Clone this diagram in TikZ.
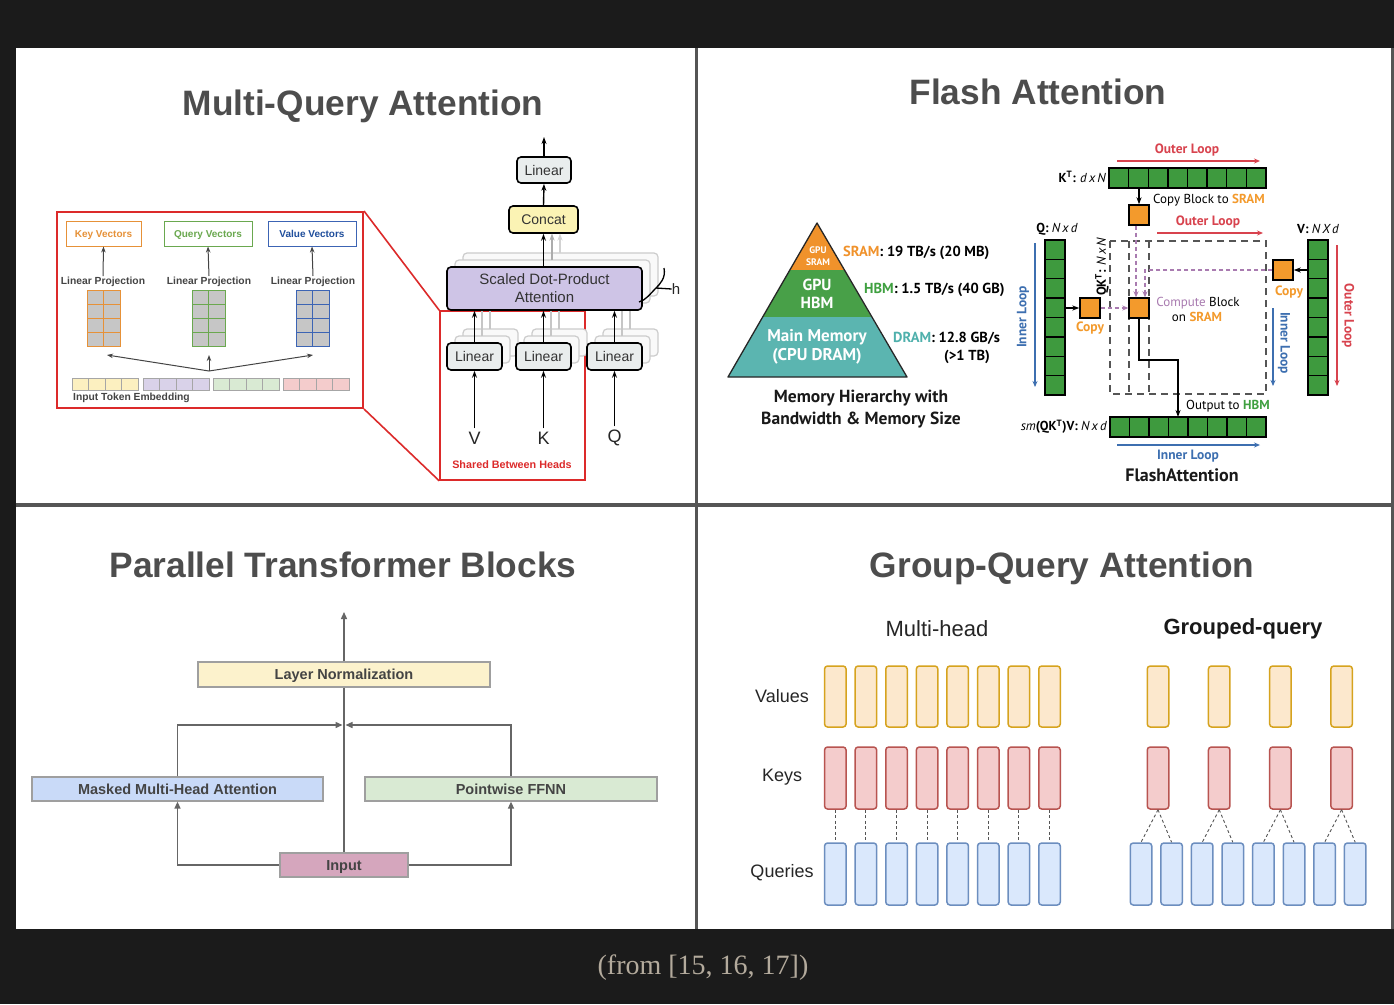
\documentclass[tikz,border=0pt]{standalone}
\usepackage{fontspec}
\setmainfont{Liberation Sans}
\newfontfamily\ptsans{PT Sans}
\newfontfamily\serifcap{Liberation Serif}
\usetikzlibrary{arrows.meta,calc}

\definecolor{bgdark}{HTML}{1B1B1B}
\definecolor{divgray}{HTML}{555555}
\definecolor{titlegray}{HTML}{4D4D4D}
\definecolor{mqred}{HTML}{DC2A2A}
\definecolor{keyor}{HTML}{E69138}
\definecolor{qgreen}{HTML}{6AA84F}
\definecolor{vblue}{HTML}{3C64B4}
\definecolor{vtext}{HTML}{1F4E9C}
\definecolor{matfill}{HTML}{C6C6C6}
\definecolor{embY}{HTML}{FCF0C0}
\definecolor{embP}{HTML}{D9D2E9}
\definecolor{embG}{HTML}{D9EAD3}
\definecolor{embR}{HTML}{F4CCCC}
\definecolor{lingray}{HTML}{E9EDED}
\definecolor{concatY}{HTML}{FBF3B4}
\definecolor{sdpa}{HTML}{CEC4E6}
\definecolor{faorange}{HTML}{F0922B}
\definecolor{fagreen}{HTML}{48A048}
\definecolor{fateal}{HTML}{5BB5B0}
\definecolor{cellgreen}{HTML}{3E9A3E}
\definecolor{blkorange}{HTML}{F39A2C}
\definecolor{lblgreen}{HTML}{3FA040}
\definecolor{lblteal}{HTML}{4FB0AC}
\definecolor{loopred}{HTML}{D8434E}
\definecolor{loopblue}{HTML}{3D6FB0}
\definecolor{cmpurple}{HTML}{A97BB0}
\definecolor{ptgray}{HTML}{444444}
\definecolor{lnY}{HTML}{FCF2CC}
\definecolor{mmhB}{HTML}{C9DAF8}
\definecolor{ffG}{HTML}{D9EAD3}
\definecolor{inP}{HTML}{D5A6BD}
\definecolor{valF}{HTML}{FCE8CD}
\definecolor{valD}{HTML}{D6A31E}
\definecolor{keyF}{HTML}{F4CCCC}
\definecolor{keyD}{HTML}{B85450}
\definecolor{qryF}{HTML}{DAE8FC}
\definecolor{qryD}{HTML}{6C8EBF}
\definecolor{capcol}{HTML}{B3AA9C}

\tikzset{
  ttl/.style={font=\bfseries\fontsize{35.3}{40}\selectfont, text=titlegray, inner sep=0, anchor=base},
  vecbox/.style={draw=#1, line width=1pt, fill=white, minimum height=25pt, inner sep=0,
     font=\bfseries\fontsize{10}{12}\selectfont, text depth=0pt, text height=7.2pt},
  lproj/.style={font=\bfseries\fontsize{10.3}{12}\selectfont, text=ptgray, inner sep=1pt},
  mqarrow/.style={-{Stealth[length=6pt,width=4.5pt]}, draw=ptgray, line width=1pt},
  tfbox/.style={draw=black, line width=1.6pt, rounded corners=4pt, inner sep=0,
     font=\fontsize{14}{16}\selectfont, text=black!80},
  shbox/.style={draw=gray!40, line width=1.2pt, rounded corners=4pt, fill=gray!5},
  blkarrow/.style={-{Stealth[length=7pt,width=5pt]}, line width=1.4pt},
  shline/.style={line width=1.2pt, draw=gray!45},
  embcell/.style={draw=gray!70, line width=0.7pt},
  fatext/.style={font=\ptsans\bfseries\fontsize{14.5}{17}\selectfont, inner sep=0},
  fasmall/.style={font=\ptsans\fontsize{13}{15.5}\selectfont, inner sep=0},
  fabold/.style={font=\ptsans\bfseries\fontsize{13.5}{15}\selectfont, inner sep=0},
  cellsty/.style={fill=cellgreen, draw=black, line width=1.4pt},
  oblock/.style={fill=blkorange, draw=black, line width=1.4pt, minimum width=20pt, minimum height=20pt, inner sep=0},
  looparrow/.style={-{Stealth[length=6pt,width=5pt]}, line width=1.3pt},
  pdash/.style={draw=cmpurple, line width=1.4pt, dash pattern=on 4pt off 3pt},
  gdash/.style={draw=divgray, line width=1.3pt, dash pattern=on 7pt off 5pt},
  ptbox/.style={draw=gray!75, line width=1.2pt, inner sep=0, minimum height=24pt,
     font=\bfseries\fontsize{14.5}{16}\selectfont, text=ptgray, text depth=0pt, text height=10.4pt},
  ptline/.style={draw=divgray!90, line width=1.4pt},
  ptarrow/.style={ptline, -{Triangle[length=7pt,width=6pt]}},
  gqrect/.style={draw=#1, line width=1.5pt, rounded corners=3pt, minimum width=21.5pt, inner sep=0},
  gqdash/.style={draw=divgray, line width=0.9pt, dash pattern=on 3pt off 2.5pt},
  gqlabel/.style={font=\fontsize{18}{20}\selectfont, text=black!85, inner sep=0},
}

\begin{document}
\begin{tikzpicture}[x=1pt,y=-1pt]
\useasboundingbox (0,0) rectangle (1394,1004);
\fill[bgdark] (0,0) rectangle (1394,1004);
\fill[divgray] (16,48) rectangle (1394,929);
\fill[white] (16,48) rectangle (695,503);
\fill[white] (698,48) rectangle (1391,503);
\fill[white] (16,507) rectangle (695,929);
\fill[white] (698,507) rectangle (1391,929);

%================ Multi-Query Attention ================
\node[ttl] (mqattl) at (363,115.5) {Multi-Query Attention};

\node[draw=mqred, line width=2pt, minimum width=306pt, minimum height=196pt, inner sep=0] (inset) at (210,310) {};

\node[vecbox=keyor, minimum width=75pt, text=keyor] (kvec) at (103.5,233.5) {Key Vectors};
\node[vecbox=qgreen, minimum width=88pt, text=qgreen] (qvec) at (208,233.5) {Query Vectors};
\node[vecbox=vblue, minimum width=88pt, text=vtext] (vvec) at (312,233.5) {Value Vectors};

\node[lproj] (lpk) at (103,282) {Linear Projection};
\node[lproj] (lpq) at (209,282) {Linear Projection};
\node[lproj] (lpv) at (313,282) {Linear Projection};
\draw[mqarrow] (lpk.north) -- (kvec.south);
\draw[mqarrow] (lpq.north) -- (qvec.south);
\draw[mqarrow] (lpv.north) -- (vvec.south);

\foreach \mx/\col in {87/keyor,192/qgreen,296/vblue}{
  \fill[matfill] (\mx,290) rectangle ++(33,56);
  \draw[\col, line width=1pt] (\mx,290) rectangle ++(33,56);
  \draw[\col, line width=1pt] (\mx+16.5,290) -- ++(0,56);
  \foreach \r in {1,2,3} \draw[\col, line width=1pt] (\mx,290+14*\r) -- ++(33,0);
}

\coordinate (embsrc) at (209,371);
\coordinate (tk) at (107,355);
\coordinate (tq) at (209,355);
\coordinate (tv) at (313,355);
\draw[mqarrow] (embsrc) -- (tk);
\draw[mqarrow] (embsrc) -- (tq);
\draw[mqarrow] (embsrc) -- (tv);

\foreach \gx/\gc in {72/embY,143/embP,213/embG,283/embR}{
  \foreach \c in {0,1,2,3}
    \draw[embcell, fill=\gc] (\gx+16.5*\c,378) rectangle ++(16.5,12);
}
\node[lproj, anchor=west, inner sep=0] (embl) at (73,398) {Input Token Embedding};

% shared box and connectors
\node[draw=mqred, line width=1.6pt, minimum width=145pt, minimum height=169pt, inner sep=0] (shared) at (512.5,395.5) {};
\draw[mqred, line width=1.6pt] (inset.north east) -- (shared.north west);
\draw[mqred, line width=1.6pt] (inset.south east) -- (shared.south west);
\node[font=\bfseries\fontsize{10.8}{12}\selectfont, text=mqred] (shl) at (512,465) {Shared Between Heads};

% shadows of linear boxes
\foreach \lx in {474.5,543.5,614.5}{
  \foreach \o in {2,1}{
    \node[shbox, minimum width=55pt, minimum height=27pt] at ({\lx+8*\o},{356.5-7*\o}) {};
    \draw[shline] ({\lx+8*\o-0.5},{343-7*\o}) -- ({\lx+8*\o-0.5},{310-7*\o});
  }
}
% shadows of attention box
\foreach \o in {2,1}{
  \node[shbox, minimum width=195pt, minimum height=43pt] at ({544.5+8*\o},{288.5-7*\o}) {};
}
\node[tfbox, fill=sdpa, minimum width=195pt, minimum height=43pt, align=center,
      font=\fontsize{15}{18}\selectfont] (sdp) at (544.5,288.5) {Scaled Dot-Product\\Attention};

\node[tfbox, fill=lingray, minimum width=55pt, minimum height=27pt] (lin1) at (474.5,356.5) {Linear};
\node[tfbox, fill=lingray, minimum width=55pt, minimum height=27pt] (lin2) at (543.5,356.5) {Linear};
\node[tfbox, fill=lingray, minimum width=55pt, minimum height=27pt] (lin3) at (614.5,356.5) {Linear};
\node[tfbox, fill=concatY, minimum width=69pt, minimum height=27pt] (concat) at (543.5,219.5) {Concat};
\node[tfbox, fill=lingray, minimum width=54pt, minimum height=26pt] (lintop) at (544,170) {Linear};
\coordinate (outtop) at (544,137);

\draw[blkarrow] (lintop.north) -- (outtop);
\draw[blkarrow] (concat.north) -- (lintop.south);
\draw[blkarrow, draw=gray!35] (560,253) -- (560,233.5);
\draw[blkarrow, draw=gray!65] (552,260) -- (552,233.5);
\draw[blkarrow] (543.5,266.5) -- (concat.south);
\draw[blkarrow] (lin1.north) -- (lin1.north |- sdp.south);
\draw[blkarrow] (lin2.north) -- (lin2.north |- sdp.south);
\draw[blkarrow] (lin3.north) -- (lin3.north |- sdp.south);

\node[font=\fontsize{18}{20}\selectfont, text=black!85] (vin) at (474.5,438) {V};
\node[font=\fontsize{18}{20}\selectfont, text=black!85] (kin) at (543.5,438) {K};
\node[font=\fontsize{18}{20}\selectfont, text=black!85] (qin) at (614.5,438) {Q};
\draw[blkarrow] (vin.north) -- (lin1.south);
\draw[blkarrow] (kin.north) -- (lin2.south);
\draw[blkarrow] (qin.north) -- (lin3.south);

% h brace
\draw[line width=1.3pt] (664,268) .. controls (666,278) and (660,284) .. (656,288)
                          .. controls (650,294) and (646,300) .. (639,302);
\node[font=\fontsize{15}{17}\selectfont, text=black!85, inner sep=0] (hlab) at (676,289) {h};
\draw[line width=1.3pt] (656,288) -- (hlab.west);

%================ Flash Attention ================
\node[ttl] (fattl) at (1038,104.5) {Flash Attention};

\coordinate (apex) at (817,223);
\coordinate (sl) at (789.8,270);
\coordinate (sr) at (844.2,270);
\coordinate (hl) at (762.7,317);
\coordinate (hr) at (871.3,317);
\coordinate (bl) at (728,377);
\coordinate (br) at (907,377);
\fill[faorange] (apex) -- (sl) -- (sr) -- cycle;
\fill[fagreen] (sl) -- (hl) -- (hr) -- (sr) -- cycle;
\fill[fateal] (hl) -- (bl) -- (br) -- (hr) -- cycle;
\draw[black!85, line width=1.3pt, line join=round] (apex) -- (bl) -- (br) -- cycle;

\node[font=\ptsans\bfseries\fontsize{9.5}{12.5}\selectfont, text=white, align=center, inner sep=0] (sramt) at (818,256) {GPU\\SRAM};
\node[font=\ptsans\bfseries\fontsize{16}{17.5}\selectfont, text=white, align=center, inner sep=0] (hbmt) at (817,294) {GPU\\HBM};
\node[font=\ptsans\bfseries\fontsize{17}{19.5}\selectfont, text=white, align=center, inner sep=0] (dramt) at (817,347) {Main Memory\\(CPU DRAM)};

\node[fatext, anchor=west] (sraml) at (843,253) {\textcolor{faorange}{SRAM}: 19 TB/s (20 MB)};
\node[fatext, anchor=west] (hbml) at (864,290) {\textcolor{lblgreen}{HBM}: 1.5 TB/s (40 GB)};
\node[fatext, anchor=west] (draml) at (893,338) {\textcolor{lblteal}{DRAM}: 12.8 GB/s};
\node[fatext] (draml2) at (967,357) {(>1 TB)};
\node[font=\ptsans\bfseries\fontsize{17.5}{21.5}\selectfont, align=center, inner sep=0, text=black!90] (memcap) at (861,409) {Memory Hierarchy with\\Bandwidth \& Memory Size};

% bars
\node[minimum width=157pt, minimum height=20pt, inner sep=0, anchor=north west] (ktbar) at (1109,168) {};
\foreach \i in {0,...,7} \draw[cellsty] (1109+19.625*\i,168) rectangle ++(19.625,20);
\node[minimum width=156pt, minimum height=20pt, inner sep=0, anchor=north west] (smbar) at (1110,417) {};
\foreach \i in {0,...,7} \draw[cellsty] (1110+19.5*\i,417) rectangle ++(19.5,20);
\node[minimum width=20pt, minimum height=155pt, inner sep=0, anchor=north west] (qcol) at (1045,240) {};
\foreach \i in {0,...,7} \draw[cellsty] (1045,240+19.375*\i) rectangle ++(20,19.375);
\node[minimum width=20pt, minimum height=155pt, inner sep=0, anchor=north west] (vcol) at (1308,240) {};
\foreach \i in {0,...,7} \draw[cellsty] (1308,240+19.375*\i) rectangle ++(20,19.375);

% dashed QK^T region
\draw[gdash] (1110,241) rectangle (1266,394);
\draw[gdash] (1129,241) -- (1129,394);
\draw[gdash] (1149,241) -- (1149,394);

% orange blocks
\node[oblock] (kblk) at (1139,215) {};
\node[oblock] (qblk) at (1090,308) {};
\node[oblock] (cblk) at (1139,308) {};
\node[oblock] (vblk) at (1283,270) {};

\draw[blkarrow, line width=1.3pt] (kblk.north |- ktbar.south) -- (kblk.north);
\draw[blkarrow, line width=1.3pt] (qcol.east |- qblk.west) -- (qblk.west);
\draw[blkarrow, line width=1.3pt] (vcol.west |- vblk.east) -- (vblk.east);

\draw[pdash, -{Stealth[length=6pt,width=5pt]}] ($(kblk.south)+(-3,0)$) -- ($(cblk.north)+(-3,0)$);
\draw[pdash, -{Stealth[length=6pt,width=5pt]}] (vblk.west) -- (1145,270) -- ($(cblk.north)+(6,0)$);
\draw[pdash, -{Stealth[length=6pt,width=5pt]}] (qblk.east) -- (cblk.west);

\draw[blkarrow, line width=1.3pt] (cblk.south) -- (1139,360) -- (1178,360) -- (1178,417);

% labels
\node[fabold, text=loopred] (ol1) at (1187,150) {Outer Loop};
\draw[looparrow, loopred] (1117,161) -- (1260,161);
\node[fasmall, anchor=west] (cpbl) at (1153,200) {Copy Block to \textcolor{blkorange}{\bfseries SRAM}};
\node[fabold, text=loopred] (ol2) at (1208,222) {Outer Loop};
\draw[looparrow, loopred] (1157,233) -- (1263,233);
\node[fasmall, anchor=east] (ktl) at (1106,177) {\bfseries K\textsuperscript{T}: \mdseries\itshape d\,x\,N};
\node[fasmall] (ql) at (1057,229) {\bfseries Q: \mdseries\itshape N\,x\,d};
\node[fasmall] (vl) at (1318,229) {\bfseries V: \mdseries\itshape N\,X\,d};
\node[fasmall, rotate=90] (qktl) at (1102,267) {\bfseries QK\textsuperscript{T}: \mdseries\itshape N\,x\,N};
\node[fabold, text=blkorange] (cpq) at (1090,328) {Copy};
\node[fabold, text=blkorange] (cpv) at (1289,292) {Copy};
\node[fasmall, align=left] (cmpl) at (1198,309.5) {\textcolor{cmpurple}{Compute} Block\\\hspace*{1.2em}on \textcolor{blkorange}{\bfseries SRAM}};
\node[fabold, text=loopblue, rotate=90] (il1) at (1023,317) {Inner Loop};
\draw[looparrow, loopblue] (1035,243) -- (1035,387);
\node[fabold, text=loopblue, rotate=-90] (il2) at (1284,343) {Inner Loop};
\draw[looparrow, loopblue] (1273,308) -- (1273,386);
\node[fabold, text=loopred, rotate=-90] (ol3) at (1348,316) {Outer Loop};
\draw[looparrow, loopred] (1337,245) -- (1337,386);
\node[fasmall, anchor=west] (outl) at (1186,406) {Output to \textcolor{lblgreen}{\bfseries HBM}};
\node[fasmall, anchor=east] (sml) at (1107,427) {\itshape sm\upshape\bfseries(QK\textsuperscript{T})V: \mdseries\itshape N\,x\,d};
\node[fabold, text=loopblue] (il3) at (1188,456) {Inner Loop};
\draw[looparrow, loopblue] (1117,445) -- (1260,445);
\node[font=\ptsans\bfseries\fontsize{18}{20}\selectfont, inner sep=0, text=black!90] (fal) at (1182,475) {FlashAttention};

%================ Parallel Transformer Blocks ================
\node[ttl] (ptttl) at (343,577.5) {Parallel Transformer Blocks};
\node[ptbox, fill=lnY, minimum width=292pt, minimum height=25pt] (ln) at (344,674.5) {Layer Normalization};
\node[ptbox, fill=mmhB, minimum width=291pt] (mmh) at (177.5,789) {Masked Multi-Head Attention};
\node[ptbox, fill=ffG, minimum width=292pt] (ffn) at (511,789) {Pointwise FFNN};
\node[ptbox, fill=inP, minimum width=128pt] (inp) at (344,865) {Input};
\coordinate (pttop) at (344,612);
\coordinate (jl) at (342.5,725);
\coordinate (jr) at (345.5,725);
\draw[ptarrow] (ln.north) -- (pttop);
\draw[ptline] (ln.south) -- (inp.north);
\draw[ptarrow] (mmh.north) |- (jl);
\draw[ptarrow] (ffn.north) |- (jr);
\draw[ptarrow] (inp.west) -| (mmh.south);
\draw[ptarrow] (inp.east) -| (ffn.south);

%================ Group-Query Attention ================
\node[ttl] (gqttl) at (1062,577.5) {Group-Query Attention};
\node[font=\fontsize{22}{24}\selectfont, text=black!85, inner sep=0] (mhl) at (937,629) {Multi-head};
\node[font=\bfseries\fontsize{22}{24}\selectfont, text=black!90, inner sep=0] (gql) at (1243,629) {Grouped-query};
\node[gqlabel] (vall) at (782,696) {Values};
\node[gqlabel] (keyl) at (782,777) {Keys};
\node[gqlabel] (qryl) at (782,873) {Queries};

\foreach \i in {0,...,7}{
  \pgfmathsetmacro\cx{835.3+30.6*\i}
  \node[gqrect=valD, fill=valF, minimum height=61pt] (mv\i) at (\cx,696.5) {};
  \node[gqrect=keyD, fill=keyF, minimum height=62pt] (mk\i) at (\cx,778) {};
  \node[gqrect=qryD, fill=qryF, minimum height=62pt] (mq\i) at (\cx,874) {};
  \draw[gqdash] (mk\i.south) -- (mq\i.north);
}
\foreach \j in {0,...,3}{
  \pgfmathsetmacro\cx{1158+61.2*\j}
  \node[gqrect=valD, fill=valF, minimum height=61pt] (gv\j) at (\cx,696.5) {};
  \node[gqrect=keyD, fill=keyF, minimum height=62pt] (gk\j) at (\cx,778) {};
}
\foreach \i in {0,...,7}{
  \pgfmathsetmacro\cx{1141+30.6*\i}
  \node[gqrect=qryD, fill=qryF, minimum height=62pt] (gq\i) at (\cx,874) {};
}
\foreach \j in {0,...,3}{
  \pgfmathtruncatemacro\qa{2*\j}
  \pgfmathtruncatemacro\qb{2*\j+1}
  \draw[gqdash] (gk\j.south) -- (gq\qa.north);
  \draw[gqdash] (gk\j.south) -- (gq\qb.north);
}

%================ caption ================
\node[font=\serifcap\fontsize{28}{30}\selectfont, text=capcol, inner sep=0, anchor=base] (cap) at (703,974) {(from [15, 16, 17])};
\end{tikzpicture}
\end{document}
